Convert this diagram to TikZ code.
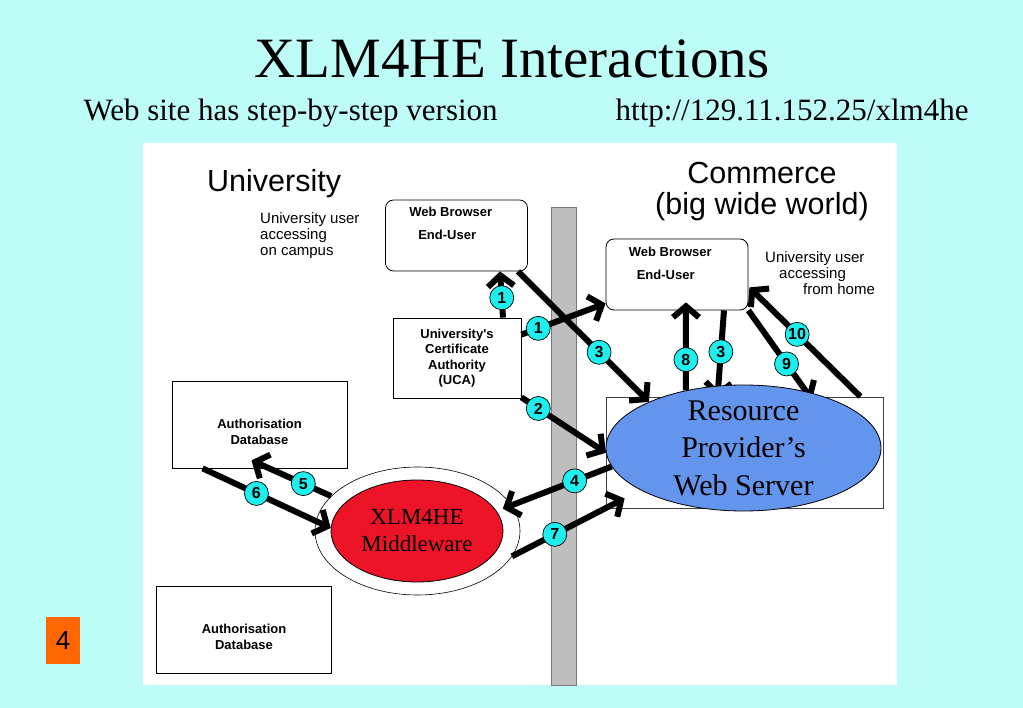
\documentclass[tikz,border=0pt]{standalone}
\usepackage{fontspec}
\setmainfont{Liberation Serif}
\newfontfamily\arialfont{Liberation Sans}
\usetikzlibrary{arrows.meta, shapes.geometric, backgrounds}

\definecolor{slidebg}{RGB}{190,252,248}
\definecolor{wallgray}{RGB}{190,190,190}
\definecolor{walledge}{RGB}{120,120,120}
\definecolor{pageorange}{RGB}{255,102,0}
\definecolor{mwred}{RGB}{238,20,40}
\definecolor{serverblue}{RGB}{100,149,237}
\definecolor{badgecyan}{RGB}{30,238,238}

\begin{document}
\begin{tikzpicture}[x=1pt, y=-1pt,
  box/.style={draw, line width=0.8pt, inner sep=0pt},
  browser/.style={box, rounded corners=8pt, minimum width=142pt, minimum height=71pt},
  dbbox/.style={box, minimum width=175pt, minimum height=87pt},
  boxtext/.style={inner sep=0pt, align=left, font=\arialfont\bfseries\fontsize{13}{23}\selectfont},
  dbtext/.style={inner sep=0pt, align=center, font=\arialfont\bfseries\fontsize{13}{16}\selectfont},
  zone/.style={inner sep=0pt, font=\arialfont\fontsize{30.5}{31}\selectfont},
  note/.style={inner sep=0pt, align=left, font=\arialfont\fontsize{15}{16}\selectfont},
  badge/.style={circle, draw, line width=0.7pt, fill=badgecyan, minimum size=24pt,
                inner sep=0pt, font=\arialfont\bfseries\fontsize{16}{16}\selectfont},
  flow/.style={line width=6pt, -{Straight Barb[length=11pt, width=26pt]}}
]
  \useasboundingbox (0,0) rectangle (1023,708);

  % slide, panel and the wall between the two sides
  \begin{pgfonlayer}{background}
    \fill[slidebg] (0,0) rectangle (1023,708);
    \fill[white] (143,143) rectangle (897,685);
    \filldraw[fill=wallgray, draw=walledge, line width=0.8pt] (551,207) rectangle (576,685);
  \end{pgfonlayer}

  % headings
  \node[font=\fontsize{57}{57}\selectfont, anchor=base] (title) at (512,78) {XLM4HE Interactions};
  \node[font=\fontsize{31}{31}\selectfont, anchor=base west] (subtitle) at (80,121)
       {Web site has step-by-step version};
  \node[font=\fontsize{31}{31}\selectfont, anchor=base east] (url) at (972,121)
       {http://129.11.152.25/xlm4he};
  \node[fill=pageorange, minimum width=34pt, minimum height=47pt, inner sep=0pt,
        font=\arialfont\fontsize{26}{26}\selectfont] (page) at (63,640.5) {4};

  % University side
  \node[zone, anchor=base west] (uni) at (207,192) {University};
  \node[note, anchor=north west] (uninote) at (260,212) {University user\\accessing\\on campus};
  \node[browser] (bwA) at (456.5,235.5) {};
  \node[boxtext, anchor=north west] (bwAtxt) at ([xshift=24pt, yshift=-7pt]bwA.north west)
       {Web Browser\\\hspace*{9pt}End-User};
  \node[box, minimum width=128pt, minimum height=80pt, align=center,
        font=\arialfont\bfseries\fontsize{13}{15.5}\selectfont] (uca) at (457,358)
       {University's\\Certificate\\Authority\\(UCA)};
  \node[dbbox] (authA) at (259.5,424.5) {};
  \node[dbtext] (authAtxt) at ([yshift=-7pt]authA.center) {Authorisation\\Database};
  \node[dbbox] (authB) at (244,629.5) {};
  \node[dbtext] (authBtxt) at ([yshift=-7pt]authB.center) {Authorisation\\Database};
  \node[ellipse, draw, line width=0.6pt, fill=white, minimum width=205pt,
        minimum height=128pt] (mwOuter) at (417.5,531) {};
  \node[ellipse, draw, line width=0.8pt, fill=mwred, minimum width=172pt, minimum height=102pt,
        inner sep=0pt, align=center, font=\fontsize{23}{27}\selectfont] (mw) at (417,531)
       {XLM4HE\\Middleware};

  % Commerce side
  \node[zone, align=center] (com) at (762,191.5) {Commerce\\(big wide world)};
  \node[note, anchor=north west] (homenote) at (765,251)
       {University user\\\hspace*{14pt}accessing\\\hspace*{38pt}from home};
  \node[browser] (bwB) at (677,274.5) {};
  \node[boxtext, anchor=north west] (bwBtxt) at ([xshift=23pt, yshift=-8pt]bwB.north west)
       {Web Browser\\\hspace*{8pt}End-User};
  \node[box, draw=black!75, minimum width=277pt, minimum height=111pt] (rpbox) at (744.5,452.5) {};
  \node[ellipse, draw, line width=0.8pt, fill=serverblue, minimum width=275pt, minimum height=126pt,
        inner sep=0pt, inner ysep=-16pt, align=center, font=\fontsize{30}{37.5}\selectfont]
        (rps) at (743.5,448) {Resource\\Provider’s\\Web Server};

  % tips that run under the server
  \begin{pgfonlayer}{background}
    \draw[flow, shorten >=-12pt] ([xshift=47pt]bwB.south) -- node[badge, pos=0.55] (n3b) {3} (rps.112);
    \draw[flow, shorten >=-10pt] (bwB.south east) -- node[badge, pos=0.66] (n9) {9} (rps.42);
  \end{pgfonlayer}

  % interactions
  \draw[flow] ([xshift=46pt]uca.north) -- node[badge, pos=0.43] (n1a) {1} ([xshift=43.5pt]bwA.south);
  \draw[flow] ([yshift=-17pt]uca.north east) -- node[badge, pos=0.2] (n1b) {1} ([yshift=7pt]bwB.south west);
  \draw[flow] ([xshift=-10pt]bwA.south east) -- node[badge, pos=0.62] (n3a) {3} (rps.154);
  \draw[flow] ([yshift=1pt]uca.south east) -- node[badge, pos=0.2] (n2) {2} (rps.182);
  \draw[flow] (rps.188) -- node[badge, pos=0.34] (n4) {4} ([xshift=8pt]mw.16);
  \draw[flow] ([xshift=31pt]authA.south west) -- node[badge, pos=0.42] (n6) {6} (mw.178);
  \draw[flow] (mwOuter.158) -- node[badge, pos=0.35] (n5) {5} ([xshift=-8pt, yshift=8pt]authA.south);
  \draw[flow] (mwOuter.-15) -- node[badge, pos=0.38] (n7) {7} ([xshift=19pt, yshift=10pt]rpbox.south west);
  \draw[flow] (rps.135) -- node[badge, pos=0.35] (n8) {8} ([xshift=9pt, yshift=8pt]bwB.south);
  \draw[flow] ([xshift=-23pt]rpbox.north east) -- node[badge, pos=0.57] (n10) {10}
        ([xshift=1pt, yshift=23pt]bwB.south east);
\end{tikzpicture}
\end{document}
